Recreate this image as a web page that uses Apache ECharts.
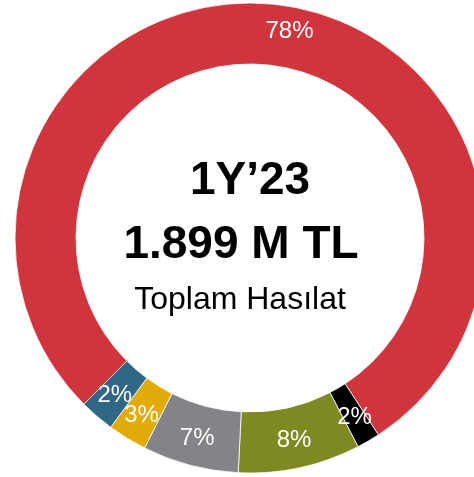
<!DOCTYPE html>
<html>
<head>
<meta charset="utf-8">
<script src="https://cdn.jsdelivr.net/npm/echarts@6/dist/echarts.min.js"></script>
<style>
html,body{margin:0;padding:0;background:#fff;}
#chart{width:474px;height:477px;}
</style>
</head>
<body>
<div id="chart"></div>
<script>
// Data (share of total revenue, %)
const categories = ['Segment A', 'Segment B', 'Segment C', 'Segment D', 'Segment E', 'Segment F'];
const values = [78.3, 1.6, 8.4, 6.6, 2.7, 2.4];
const colors = ['#D0343D', '#000000', '#7E8A21', '#838488', '#E1AC09', '#2F6886'];
const centerTitle = '1Y\u201923';
const centerValue = '1.899 M TL';
const centerSubtitle = 'Toplam Hasılat';

const chart = echarts.init(document.getElementById('chart'), null, {renderer: 'canvas'});
const FONT = '"Liberation Sans", Arial, sans-serif';

chart.setOption({
  animation: false,
  backgroundColor: '#ffffff',
  series: [{
    type: 'pie',
    center: [250, 238],
    radius: [174, 235],
    startAngle: 225,
    clockwise: true,
    avoidLabelOverlap: false,
    labelLayout: {hideOverlap: false},
    itemStyle: {borderColor: '#ffffff', borderWidth: 0.8},
    label: {
      show: true,
      position: 'inside',
      color: '#ffffff',
      fontFamily: FONT,
      fontSize: 24,
      fontWeight: 'normal',
      formatter: p => Math.round(p.percent) + '%'
    },
    labelLine: {show: false},
    emphasis: {disabled: true},
    data: categories.map((c, i) => ({
      name: c,
      value: values[i],
      itemStyle: {color: colors[i]},
      label: i === 0 ? {offset: [18, 0]} : {}
    }))
  }],
  graphic: [
    {type: 'text', x: 250, y: 181, style: {text: centerTitle, fill: '#000', font: 'bold 46px ' + FONT, textAlign: 'center', textVerticalAlign: 'middle'}},
    {type: 'text', x: 241, y: 245, style: {text: centerValue, fill: '#000', font: 'bold 46px ' + FONT, textAlign: 'center', textVerticalAlign: 'middle'}},
    {type: 'text', x: 240, y: 300, style: {text: centerSubtitle, fill: '#000', font: '32px ' + FONT, textAlign: 'center', textVerticalAlign: 'middle'}}
  ]
});
</script>
</body>
</html>
